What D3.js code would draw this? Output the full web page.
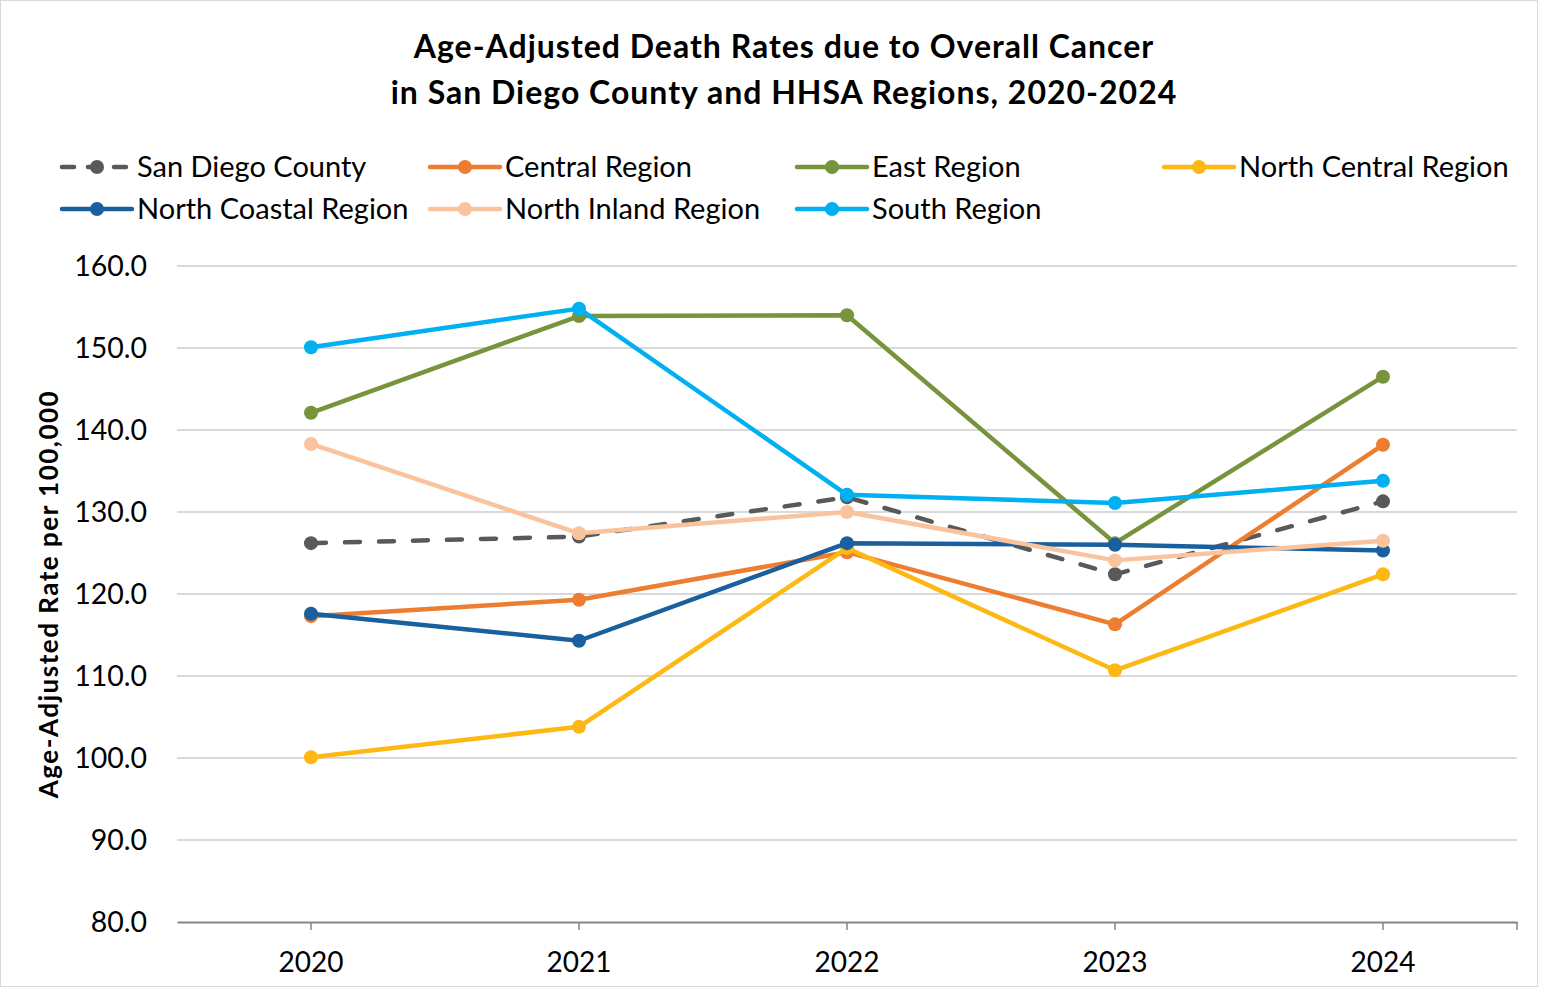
<!DOCTYPE html>
<html>
<head>
<meta charset="utf-8">
<script src="https://cdn.jsdelivr.net/npm/d3@7"></script>
<style>
  body { margin: 0; background: #fff; }
  svg { display: block; font-family: Lato, "Open Sans", sans-serif; }
</style>
</head>
<body>
<svg></svg>
<script>
var years = ["2020", "2021", "2022", "2023", "2024"];
var seriesNames = ["San Diego County", "Central Region", "East Region", "North Central Region",
                   "North Coastal Region", "North Inland Region", "South Region"];
var seriesColors = ["#595959", "#ED7D31", "#77933C", "#FDB813", "#1A5F9E", "#F9C39E", "#00B0F0"];

var sanDiegoCounty = [126.2, 127.0, 131.8, 122.4, 131.3];
var centralRegion  = [117.3, 119.3, 125.1, 116.3, 138.2];
var eastRegion     = [142.1, 153.9, 154.0, 126.2, 146.5];
var northCentral   = [100.1, 103.8, 125.6, 110.7, 122.4];
var northCoastal   = [117.6, 114.3, 126.2, 126.0, 125.3];
var northInland    = [138.3, 127.4, 130.0, 124.1, 126.5];
var southRegion    = [150.1, 154.8, 132.1, 131.1, 133.8];

var yTicks = [80, 90, 100, 110, 120, 130, 140, 150, 160];

var allValues = [sanDiegoCounty, centralRegion, eastRegion, northCentral, northCoastal, northInland, southRegion];
var series = seriesNames.map(function(n, i) {
  return {name: n, color: seriesColors[i], values: allValues[i], dashed: i === 0};
});

var w = 1542, h = 990;
var svg = d3.select("svg").attr("width", w).attr("height", h);

// frame
svg.append("rect").attr("x", 0.5).attr("y", 0.5).attr("width", w - 5).attr("height", h - 4)
  .attr("fill", "#fff").attr("stroke", "#d9d9d9");

var plotLeft = 177, plotRight = 1517, plotTop = 266, plotBottom = 922;

var x = d3.scaleBand().domain(years).range([plotLeft, plotRight]);
var y = d3.scaleLinear().domain([80, 160]).range([plotBottom, plotTop]);
var cx = function(i) { return x(years[i]) + x.bandwidth() / 2; };

// title
var title = svg.append("text").attr("text-anchor", "middle").attr("font-weight", "bold")
  .attr("font-size", 32).attr("letter-spacing", 1).attr("fill", "#000");
title.append("tspan").attr("x", 784).attr("y", 58).text("Age-Adjusted Death Rates due to Overall Cancer");
title.append("tspan").attr("x", 784).attr("y", 104).text("in San Diego County and HHSA Regions, 2020-2024");

// gridlines
svg.append("g").selectAll("line").data(yTicks.slice(1)).enter().append("line")
  .attr("x1", plotLeft).attr("x2", plotRight)
  .attr("y1", function(d) { return y(d); }).attr("y2", function(d) { return y(d); })
  .attr("stroke", "#d9d9d9").attr("stroke-width", 2);

// y axis labels
var yAxis = svg.append("g").attr("transform", "translate(" + plotLeft + ",0)")
  .call(d3.axisLeft(y).tickValues(yTicks).tickFormat(d3.format(".1f")).tickSize(0).tickPadding(30));
yAxis.select(".domain").remove();
yAxis.selectAll("text").attr("font-size", 28.5).attr("fill", "#000").attr("font-family", "Lato, sans-serif");

// x axis
var xAxis = svg.append("g").attr("transform", "translate(0," + plotBottom + ")")
  .call(d3.axisBottom(x).tickSize(0).tickPadding(30));
xAxis.select(".domain").attr("stroke", "#868686").attr("stroke-width", 2);
xAxis.selectAll("text").attr("font-size", 28).attr("fill", "#000").attr("font-family", "Lato, sans-serif");
var tickXs = years.map(function(d, i) { return cx(i); }).concat([plotRight]);
xAxis.selectAll(".tk").data(tickXs).enter().append("line").attr("class", "tk")
  .attr("x1", function(d) { return d; }).attr("x2", function(d) { return d; })
  .attr("y1", 0).attr("y2", 8).attr("stroke", "#868686").attr("stroke-width", 1.5);

// y axis title
svg.append("text").attr("transform", "translate(58,594) rotate(-90)")
  .attr("text-anchor", "middle").attr("font-weight", "bold").attr("font-size", 26)
  .attr("letter-spacing", 1.5)
  .text("Age-Adjusted Rate per 100,000");

// lines
var line = d3.line().x(function(d, i) { return cx(i); }).y(function(d) { return y(d); });
var g = svg.append("g");
series.forEach(function(s) {
  var sg = g.append("g");
  sg.append("path").datum(s.values).attr("d", line).attr("fill", "none")
    .attr("stroke", s.color).attr("stroke-width", 4.5)
    .attr("stroke-linecap", s.dashed ? "round" : "butt")
    .attr("stroke-linejoin", "round")
    .attr("stroke-dasharray", s.dashed ? "15,19" : null);
  sg.selectAll("circle").data(s.values).enter().append("circle")
    .attr("cx", function(d, i) { return cx(i); }).attr("cy", function(d) { return y(d); })
    .attr("r", 7).attr("fill", s.color);
});

// legend
var legendCols = [62, 430, 797, 1164];
var legend = svg.append("g").selectAll("g").data(series).enter().append("g")
  .attr("transform", function(d, i) {
    return "translate(" + legendCols[i % 4] + "," + (167 + Math.floor(i / 4) * 42) + ")";
  });
legend.append("line").attr("x1", 0).attr("x2", 70).attr("y1", 0).attr("y2", 0)
  .attr("stroke", function(d) { return d.color; }).attr("stroke-width", 4.5)
  .attr("stroke-linecap", "round")
  .attr("stroke-dasharray", function(d) { return d.dashed ? "12,14" : null; });
legend.append("circle").attr("cx", 35).attr("cy", 0).attr("r", 7)
  .attr("fill", function(d) { return d.color; });
legend.append("text").attr("x", 75).attr("y", 0).attr("dy", "0.35em")
  .attr("font-size", 29).attr("fill", "#000").text(function(d) { return d.name; });
</script>
</body>
</html>
